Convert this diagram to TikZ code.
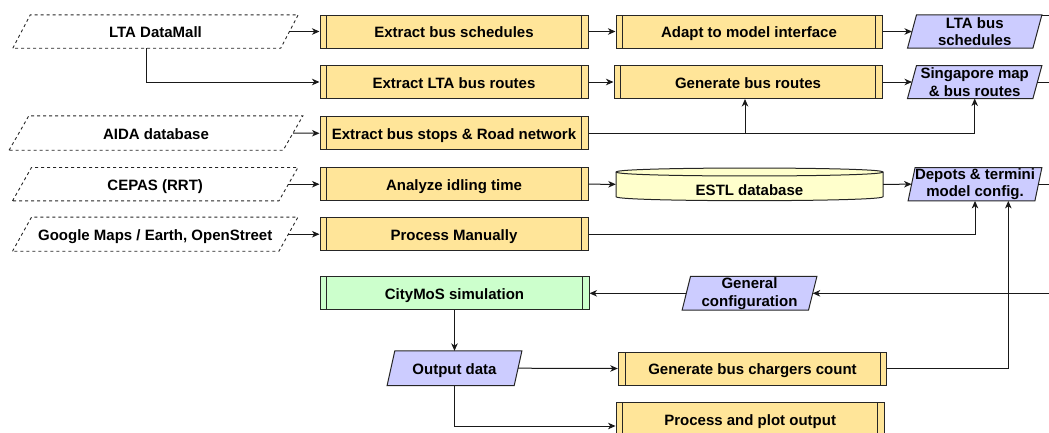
\documentclass[tikz,border=0pt]{standalone}
\usepackage{fontspec}
\setmainfont{Liberation Sans}
\usetikzlibrary{arrows.meta,calc,backgrounds}

\definecolor{procfill}{HTML}{FFE599}
\definecolor{datafill}{HTML}{CCCCFF}
\definecolor{simfill}{HTML}{CCFFCC}
\definecolor{dbfill}{HTML}{FFFFCC}
\definecolor{outline}{HTML}{262626}

% slanted outline around a rectangular node: #1 node, #2 horizontal skew, #3 style
\newcommand\slantbox[3]{%
  \path[#3] ($(#1.south west)+(-#2/2,0)$) -- ($(#1.north west)+(#2/2,0)$)
    -- ($(#1.north east)+(#2/2,0)$) -- ($(#1.south east)+(-#2/2,0)$) -- cycle;}

\tikzset{
  label font/.style={font=\fontsize{15}{17.7}\selectfont\bfseries},
  oneline/.style={text height=14.5pt, text depth=2.5pt},
  procbar/.style={draw=outline, line width=1pt},
  proc/.style={rectangle, label font, oneline, draw=outline, line width=1pt,
    fill=procfill, minimum height=33pt, inner sep=0pt,
    path picture={\draw[procbar]
      ([xshift=6.7pt]path picture bounding box.north west) --
      ([xshift=6.7pt]path picture bounding box.south west)
      ([xshift=-6.7pt]path picture bounding box.north east) --
      ([xshift=-6.7pt]path picture bounding box.south east);}},
  sim/.style={proc, fill=simfill},
  src/.style={rectangle, label font, oneline, inner sep=0pt, minimum height=33pt},
  data/.style={rectangle, label font, align=center, inner sep=0pt, minimum height=33pt},
  srcedge/.style={draw=black!85, line width=0.9pt, dash pattern=on 3pt off 3pt, fill=white},
  dataedge/.style={draw=outline, line width=1pt, fill=datafill},
  dbedge/.style={draw=outline, line width=1pt},
  conn/.style={draw=black!90, line width=1pt},
  arr/.style={conn, -{Stealth[length=7.5pt, width=6.5pt, inset=2.2pt]}},
}

\begin{document}
\begin{tikzpicture}[x=1pt, y=-1pt]
\useasboundingbox (0,0) rectangle (1049,432);
\clip (0,0) rectangle (1049,432);
\coordinate (rim) at (1049,0);

% data sources
\node[src, minimum width=267.5pt] (datamall) at (155.5,31.5) {LTA DataMall};
\node[src, minimum width=273.7pt, minimum height=34pt] (aida) at (156,133) {AIDA database};
\node[src, minimum width=266pt] (cepas) at (155.2,184.2) {CEPAS (RRT)};
\node[src, minimum width=266pt, minimum height=33.7pt] (google) at (155.2,234.2) {Google Maps / Earth, OpenStreet};

% processing steps
\node[proc, minimum width=268pt] (bsched) at (454,31.5) {Extract bus schedules};
\node[proc, minimum width=266pt] (adapt) at (749,31.5) {Adapt to model interface};
\node[proc, minimum width=268pt] (lroutes) at (454,82) {Extract LTA bus routes};
\node[proc, minimum width=268pt] (genroutes) at (748,82) {Generate bus routes};
\node[proc, minimum width=268pt] (stops) at (454,133.3) {Extract bus stops \& Road network};
\node[proc, minimum width=268pt] (idle) at (454,184.2) {Analyze idling time};
\node[proc, minimum width=268pt] (manual) at (454,234.2) {Process Manually};
\node[sim, minimum width=269pt] (citymos) at (454.5,293.3) {CityMoS simulation};
\node[proc, minimum width=268.4pt] (chargers) at (752.5,368.5) {Generate bus chargers count};
\node[proc, minimum width=268.3pt, minimum height=33.5pt] (plot) at (750.2,419) {Process and plot output};

% database
\node[label font, inner sep=0pt, minimum width=267pt, minimum height=32.7pt,
      text height=26.5pt, text depth=4pt] (estl) at (749.5,184.3) {ESTL database};

% model inputs and outputs
\node[data, minimum width=125pt] (scheddata) at (974.7,31.5) {LTA bus\\schedules};
\node[data, minimum width=125pt, minimum height=32.6pt] (mapdata) at (974.7,82) {Singapore map\\\& bus routes};
\node[data, minimum width=126.4pt] (depots) at (975,184.2) {Depots \& termini\\model config.};
\node[data, minimum width=126pt, minimum height=33.3pt] (general) at (749.5,293.3) {General\\configuration};
\node[data, oneline, minimum width=126.7pt, minimum height=34.3pt] (output) at (454.5,368.2) {Output data};

\begin{scope}[on background layer]
  \slantbox{datamall}{17.5}{srcedge}
  \slantbox{aida}{19.7}{srcedge}
  \slantbox{cepas}{19}{srcedge}
  \slantbox{google}{19}{srcedge}
  \slantbox{scheddata}{9}{dataedge}
  \slantbox{mapdata}{9}{dataedge}
  \slantbox{depots}{7}{dataedge}
  \slantbox{general}{8.4}{dataedge}
  \slantbox{output}{7.7}{dataedge}
  % ESTL cylinder
  \path[dbedge, fill=dbfill] (616,172) -- (616,196.7)
    .. controls (616,202) and (883,202) .. (883,196.7) -- (883,172)
    .. controls (883,166.7) and (616,166.7) .. (616,172) -- cycle;
  \draw[dbedge] (616,172) .. controls (616,177.3) and (883,177.3) .. (883,172);
\end{scope}

% connectors
\draw[arr] (datamall.east) -- (bsched.west);
\draw[arr] ([xshift=-8.75pt]datamall.south) |- (lroutes.west);
\draw[arr] (bsched.east) -- (adapt.west);
\draw[arr] (adapt.east) -- (scheddata.west);
\draw[arr] (lroutes.east) -- (genroutes.west);
\draw[arr] (genroutes.east) -- (mapdata.west);
\draw[arr] (aida.east) -- (stops.west);
\draw[arr] (stops.east) -| ([xshift=-3pt]genroutes.south);
\draw[arr] (stops.east) -| (mapdata.south);
\draw[arr] (cepas.east) -- (idle.west);
\draw[arr] (idle.east) -- (estl.west);
\draw[arr] (estl.east) -- (depots.west);
\draw[arr] (google.east) -- (manual.west);
\draw[arr] (manual.east) -| (depots.south);
\draw[arr] (chargers.east) -| ([xshift=33.3pt]depots.south);
\draw[arr] (general.east -| rim) -- (general.east);
\draw[arr] (general.west) -- (citymos.east);
\draw[arr] (citymos.south) -- (output.north);
\draw[arr] (output.east) -- (chargers.west);
\draw[arr] (output.south) |- ($(plot.west)+(0,7)$);

% outgoing links at the right margin
\draw[conn] ($(scheddata.north east)+(4.5,0.7)$) -- ($(scheddata.north east -| rim)+(0,0.7)$);
\draw[conn] (mapdata.east) -- (mapdata.east -| rim);
\draw[conn] (depots.east) -- (depots.east -| rim);
\end{tikzpicture}
\end{document}
